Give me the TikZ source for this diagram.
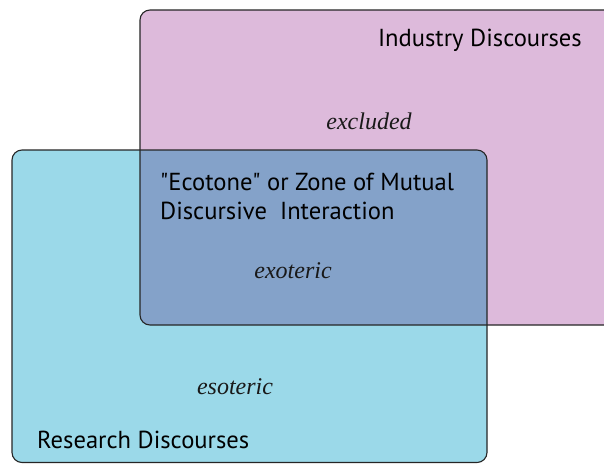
\documentclass[tikz,border=0pt]{standalone}
\usepackage{fontspec}
\setmainfont{Liberation Serif}
\newfontfamily\labelsans{PT Sans}
\begin{document}
\begin{tikzpicture}[x=1pt,y=-1pt,
  framebox/.style={draw=black!85, line width=1.1pt, rounded corners=10pt},
  title/.style={font=\labelsans\fontsize{24.6}{28}\selectfont, text=black, inner sep=0pt},
  tag/.style={font=\itshape\fontsize{24}{28}\selectfont, text=black!90, inner sep=0pt}]
\definecolor{industry}{RGB}{221,186,219}
\definecolor{research}{RGB}{155,217,233}
\definecolor{ecotone}{RGB}{132,162,201}
\useasboundingbox (0,0) rectangle (604,464);
\clip (0,0) rectangle (604,464);
% the two discourse fields
\fill[industry, rounded corners=10pt] (140,10) rectangle (640,325);
\fill[research, rounded corners=10pt] (12,150) rectangle (487,462.5);
% their overlap
\begin{scope}
  \clip[rounded corners=10pt] (12,150) rectangle (487,462.5);
  \fill[ecotone, rounded corners=10pt] (140,10) rectangle (640,325);
\end{scope}
% outlines
\draw[framebox] (140,10) rectangle (640,325);
\draw[framebox] (12,150) rectangle (487,462.5);
% labels
\node[title, anchor=base east] (ind) at (582,46) {Industry Discourses};
\node[tag] (exc) at (369,121) {excluded};
\node[title, anchor=base west] (eco) at (160,190) {"Ecotone" or Zone of Mutual};
\node[title, anchor=base west] (eco2) at (160,219) {Discursive\ \ Interaction};
\node[tag] (exo) at (293,271) {exoteric};
\node[tag] (eso) at (235,387) {esoteric};
\node[title, anchor=base west] (res) at (37,448) {Research Discourses};
\end{tikzpicture}
\end{document}
